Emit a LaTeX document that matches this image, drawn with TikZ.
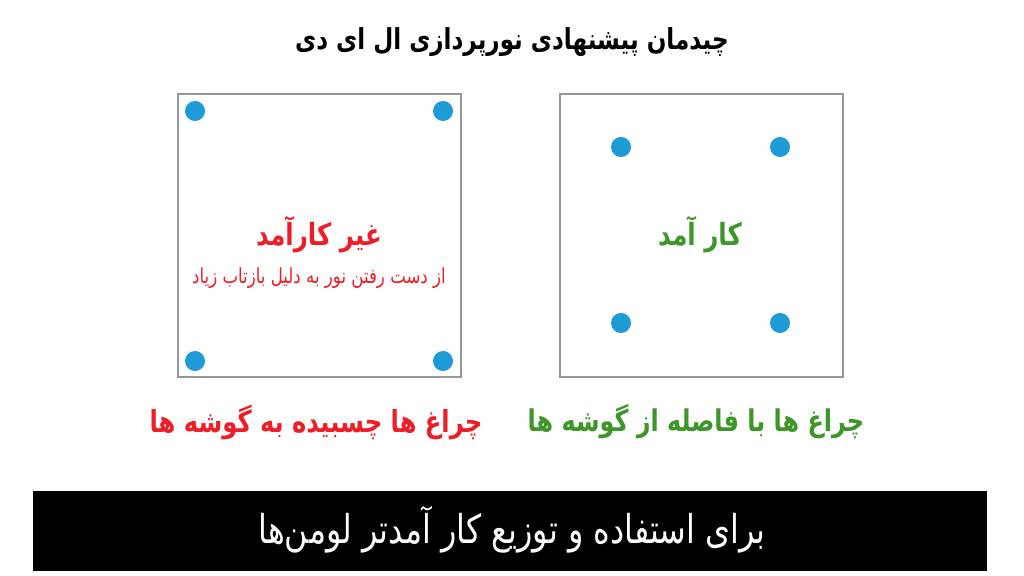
\documentclass[tikz,border=0pt]{standalone}
\usepackage{fontspec}
\newfontfamily\arabicfont[Script=Arabic,FakeStretch=0.8]{DejaVu Sans}
\TeXXeTstate=1
\definecolor{ledblue}{RGB}{30,155,215}
\definecolor{badred}{RGB}{237,30,40}
\definecolor{goodgreen}{RGB}{60,150,40}
\definecolor{framegray}{RGB}{150,150,150}

\begin{document}
\begin{tikzpicture}[x=0.01cm,y=-0.01cm,
	lamp/.style={circle,fill=ledblue,inner sep=0pt,minimum size=0.2cm},
	panel/.style={draw=framegray,line width=0.6pt}]

\useasboundingbox (0,0) rectangle (1024,576);

\node[font=\arabicfont\bfseries\fontsize{8.2}{10}\selectfont] (title) at (512,42)
	{\beginR چیدمان پیشنهادی نورپردازی ال ای دی\endR};

\draw[panel] (178,94) rectangle (461,377);
\draw[panel] (560,94) rectangle (843,377);

\foreach \x/\y/\n in {195/111/a,443/111/b,195/361/c,443/361/d}
	\node[lamp] (bad\n) at (\x,\y) {};
\foreach \x/\y/\n in {621/147/a,780/147/b,621/323/c,780/323/d}
	\node[lamp] (good\n) at (\x,\y) {};

\node[color=badred,font=\arabicfont\bfseries\fontsize{8.7}{10}\selectfont] (badhead) at (319,235)
	{\beginR غیر کارآمد\endR};
\node[color=badred,font=\arabicfont\fontsize{5.9}{8}\selectfont] (badnote) at (319,278)
	{\beginR از دست رفتن نور به دلیل بازتاب زیاد\endR};
\node[color=goodgreen,font=\arabicfont\bfseries\fontsize{8.7}{10}\selectfont] (goodhead) at (700,235)
	{\beginR کار آمد\endR};

\node[color=badred,font=\arabicfont\bfseries\fontsize{8.6}{10}\selectfont] (badcap) at (316,422)
	{\beginR چراغ ها چسبیده به گوشه ها\endR};
\node[color=goodgreen,font=\arabicfont\bfseries\fontsize{8.5}{10}\selectfont] (goodcap) at (696,422)
	{\beginR چراغ ها با فاصله از گوشه ها\endR};

\fill[black] (33,491) rectangle (987,571);
\node[color=white,font=\arabicfont\fontsize{11.3}{13}\selectfont] (footer) at (512,530)
	{\beginR برای استفاده و توزیع کار آمدتر لومن‌ها\endR};

\end{tikzpicture}
\end{document}
